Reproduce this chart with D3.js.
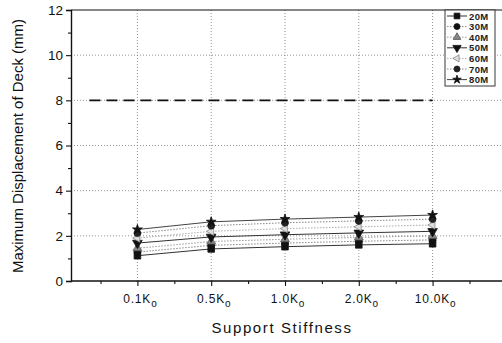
<!DOCTYPE html>
<html>
<head>
<meta charset="utf-8">
<script src="https://cdn.jsdelivr.net/npm/d3@7"></script>
<style>
  html, body { margin: 0; padding: 0; background: #fff; }
  svg { display: block; font-family: "Liberation Sans", Arial, sans-serif; }
  svg text { font-family: "Liberation Sans", Arial, sans-serif; }
</style>
</head>
<body>
<svg id="chart" width="502" height="343"></svg>
<script>
// Support stiffness cases (positions 1..5 on the x axis)
const categories = ["0.1K", "0.5K", "1.0K", "2.0K", "10.0K"];
const seriesNames = ["20M", "30M", "40M", "50M", "60M", "70M", "80M"];
const s20 = [1.12, 1.42, 1.52, 1.60, 1.65];
const s30 = [1.28, 1.58, 1.68, 1.76, 1.82];
const s40 = [1.45, 1.75, 1.85, 1.93, 2.00];
const s50 = [1.68, 1.95, 2.05, 2.13, 2.20];
const s60 = [1.90, 2.20, 2.32, 2.40, 2.48];
const s70 = [2.12, 2.45, 2.58, 2.66, 2.74];
const s80 = [2.28, 2.62, 2.74, 2.83, 2.92];
const limitValue = 8;
const yTicks = [0, 2, 4, 6, 8, 10, 12];

const seriesValues = [s20, s30, s40, s50, s60, s70, s80];
const styles = [
  { symbol: d3.symbolSquare, fill: "#111", stroke: "#111", dash: null, line: "#333", size: 44 },
  { symbol: d3.symbolCircle, fill: "#111", stroke: "#111", dash: "1.5,1.5", line: "#888", size: 38 },
  { symbol: d3.symbolTriangle, fill: "#888", stroke: "#555", dash: "1.5,1.5", line: "#999", size: 34 },
  { symbol: "down", fill: "#111", stroke: "#111", dash: null, line: "#333", size: 40 },
  { symbol: "left", fill: "#ddd", stroke: "#888", dash: "1.5,1.5", line: "#aaa", size: 30 },
  { symbol: d3.symbolCircle, fill: "#222", stroke: "#222", dash: "1.5,1.5", line: "#888", size: 38 },
  { symbol: d3.symbolStar, fill: "#111", stroke: "#111", dash: null, line: "#444", size: 30 }
];

const svg = d3.select("#chart");
const x = d3.scaleLinear().domain([0.1, 5.9]).range([71, 499]);
const y = d3.scaleLinear().domain([0, 12]).range([281, 10]);

function symbolPath(st) {
  if (st.symbol === "down" || st.symbol === "left") {
    const p = d3.symbol().type(d3.symbolTriangle).size(st.size)();
    return { d: p, rot: st.symbol === "down" ? 180 : -90 };
  }
  return { d: d3.symbol().type(st.symbol).size(st.size)(), rot: 0 };
}

// grid lines
const grid = svg.append("g").attr("stroke", "#777").attr("stroke-width", 0.8).attr("stroke-dasharray", "1,2");
[2, 4, 6, 8, 10].forEach(v => {
  grid.append("line").attr("x1", x(0.1)).attr("x2", 502).attr("y1", y(v)).attr("y2", y(v));
});
categories.forEach((c, i) => {
  grid.append("line").attr("x1", x(i + 1)).attr("x2", x(i + 1)).attr("y1", y(0)).attr("y2", y(12));
});

// limit line
svg.append("line")
  .attr("x1", x(0.35)).attr("x2", x(5.0))
  .attr("y1", y(limitValue)).attr("y2", y(limitValue))
  .attr("stroke", "#111").attr("stroke-width", 1.6).attr("stroke-dasharray", "11,6");

// series
const line = d3.line().x((d, i) => x(i + 1)).y(d => y(d));
seriesValues.forEach((vals, k) => {
  const st = styles[k];
  svg.append("path").datum(vals).attr("d", line)
    .attr("fill", "none").attr("stroke", st.line).attr("stroke-width", 1)
    .attr("stroke-dasharray", st.dash);
});
seriesValues.forEach((vals, k) => {
  const st = styles[k];
  const sp = symbolPath(st);
  svg.append("g").selectAll("path").data(vals).join("path")
    .attr("d", sp.d)
    .attr("transform", (d, i) => `translate(${x(i + 1)},${y(d)}) rotate(${sp.rot})`)
    .attr("fill", st.fill).attr("stroke", st.stroke).attr("stroke-width", 0.8);
});

// frame top
svg.append("line").attr("x1", x(0.1)).attr("x2", 502).attr("y1", y(12)).attr("y2", y(12))
  .attr("stroke", "#111").attr("stroke-width", 1.2);

// y axis
const yAxis = svg.append("g").attr("transform", `translate(${x(0.1)},0)`)
  .call(d3.axisLeft(y).tickValues(yTicks).tickSize(5).tickPadding(3).tickFormat(d3.format("d")));
svg.append("g").attr("transform", `translate(${x(0.1)},0)`)
  .call(d3.axisLeft(y).tickValues([1, 3, 5, 7, 9, 11]).tickSize(3).tickFormat(""))
  .select(".domain").remove();
yAxis.attr("font-family", null).attr("font-size", null);
yAxis.selectAll("text").attr("font-size", 13.5).attr("fill", "#111");

// x axis
const xAxis = svg.append("g").attr("transform", `translate(0,${y(0)})`)
  .call(d3.axisBottom(x).tickValues([1, 2, 3, 4, 5]).tickSize(5).tickFormat(""));
svg.append("g").attr("transform", `translate(0,${y(0)})`)
  .call(d3.axisBottom(x).tickValues([0.5, 1.5, 2.5, 3.5, 4.5, 5.5]).tickSize(3).tickFormat(""))
  .select(".domain").remove();
xAxis.select(".domain").attr("d", `M${x(0.1)},0H502`);
svg.selectAll(".domain").attr("stroke", "#111").attr("stroke-width", 1.4);
svg.selectAll(".tick line").attr("stroke", "#111").attr("stroke-width", 1.1);

// category labels with subscript o
const lab = svg.append("g").attr("font-size", 12).attr("fill", "#111").attr("letter-spacing", 0.8);
categories.forEach((c, i) => {
  const t = lab.append("text").attr("x", x(i + 1) + 3).attr("y", 303).attr("text-anchor", "middle");
  t.append("tspan").text(c);
  t.append("tspan").attr("dy", 4).attr("font-size", 10).text("o");
});

// axis titles
svg.append("text").attr("x", 282).attr("y", 333).attr("text-anchor", "middle")
  .attr("font-size", 15).attr("letter-spacing", 1.6).attr("fill", "#111").text("Support Stiffness");
svg.append("text").attr("transform", "translate(23,146) rotate(-90)").attr("text-anchor", "middle")
  .attr("font-size", 15).attr("fill", "#111").text("Maximum Displacement of Deck (mm)");

// legend
const lg = svg.append("g").attr("transform", "translate(445,10)");
lg.append("rect").attr("width", 50).attr("height", 76).attr("fill", "#fff")
  .attr("stroke", "#222").attr("stroke-width", 0.9);
seriesNames.forEach((n, k) => {
  const st = styles[k];
  const sp = symbolPath({ ...st, size: st.size * 0.75 });
  const yy = 6 + k * 10.6;
  lg.append("line").attr("x1", 2).attr("x2", 22).attr("y1", yy).attr("y2", yy)
    .attr("stroke", st.line).attr("stroke-width", 1).attr("stroke-dasharray", st.dash);
  lg.append("path").attr("d", sp.d).attr("transform", `translate(12,${yy}) rotate(${sp.rot})`)
    .attr("fill", st.fill).attr("stroke", st.stroke).attr("stroke-width", 0.8);
  lg.append("text").attr("x", 24).attr("y", yy + 3.5).attr("font-size", 9.5).attr("font-weight", "bold")
    .attr("letter-spacing", 0.4).attr("fill", "#222").text(n);
});
</script>
</body>
</html>
